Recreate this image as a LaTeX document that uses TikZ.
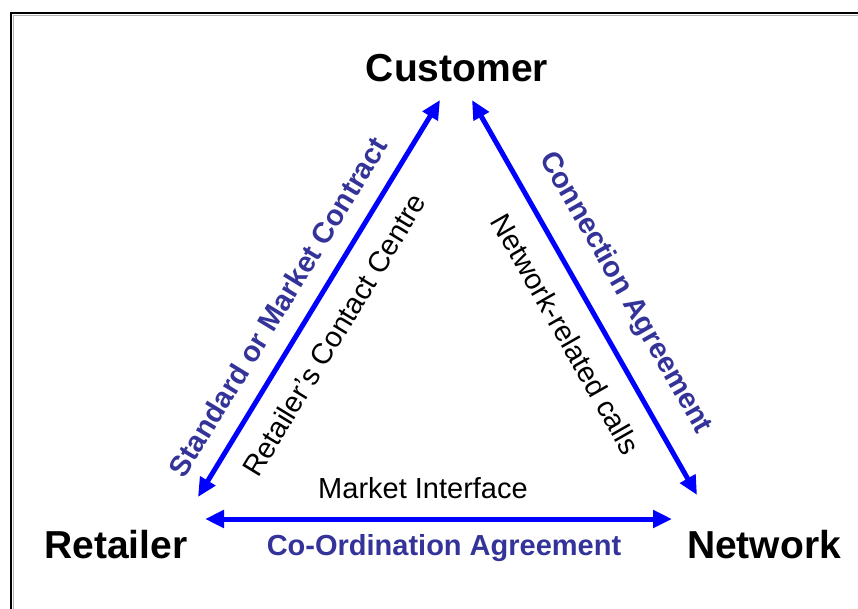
\documentclass[tikz,border=0pt]{standalone}
\usepackage{xcolor}
\usepackage{fontspec}
\setmainfont{Liberation Sans}
\usepackage{tikz}
\usetikzlibrary{arrows.meta, positioning}
\definecolor{linkblue}{RGB}{0, 0, 255}
\definecolor{dealblue}{RGB}{51, 51, 153}

\begin{document}
\begin{tikzpicture}[
    x=1pt, y=1pt,
    party/.style={inner sep=0pt, font=\fontsize{39}{44}\selectfont\bfseries},
    deal/.style={inner sep=0pt, text=dealblue, font=\fontsize{29}{33}\selectfont\bfseries},
    note/.style={inner sep=0pt, font=\fontsize{29}{33}\selectfont},
    link/.style={{Triangle[length=19pt,width=17pt]}-{Triangle[length=19pt,width=17pt]}, line width=5pt, linkblue}
]
    \useasboundingbox (0,0) rectangle (858,608);
    % frame
    \draw[line width=2.5pt] (11,-20) |- (880,595);
    \draw[line width=1pt, black!30] (13.5,-20) |- (880,592.5);

    % the three parties
    \node[party] (customer) at (457,540) {Customer};
    \node[party] (retailer) at (116,63) {Retailer};
    \node[party] (network) at (764,63) {Network};

    % arrow ends
    \coordinate (ret-up) at (198,111);
    \coordinate (cus-left) at (440,508);
    \coordinate (cus-right) at (472,508);
    \coordinate (net-up) at (697,113);
    \coordinate (ret-right) at (205,89);
    \coordinate (net-left) at (672,89);

    \draw[link] (ret-up) -- (cus-left);
    \draw[link] (cus-right) -- (net-up);
    \draw[link] (ret-right) -- (net-left);

    % agreements and interfaces
    \node[deal, rotate=58.6] (contract) at (278,301) {Standard or Market Contract};
    \node[note, rotate=58.6] (contact) at (334,273) {Retailer's Contact Centre};
    \node[deal, rotate=-60.3] (connection) at (625,315) {Connection Agreement};
    \node[note, rotate=-60.3] (calls) at (566,274) {Network-related calls};
    \node[note] (market) at (423,120) {Market Interface};
    \node[deal] (coord) at (444,60) {Co-Ordination Agreement};
\end{tikzpicture}
\end{document}
